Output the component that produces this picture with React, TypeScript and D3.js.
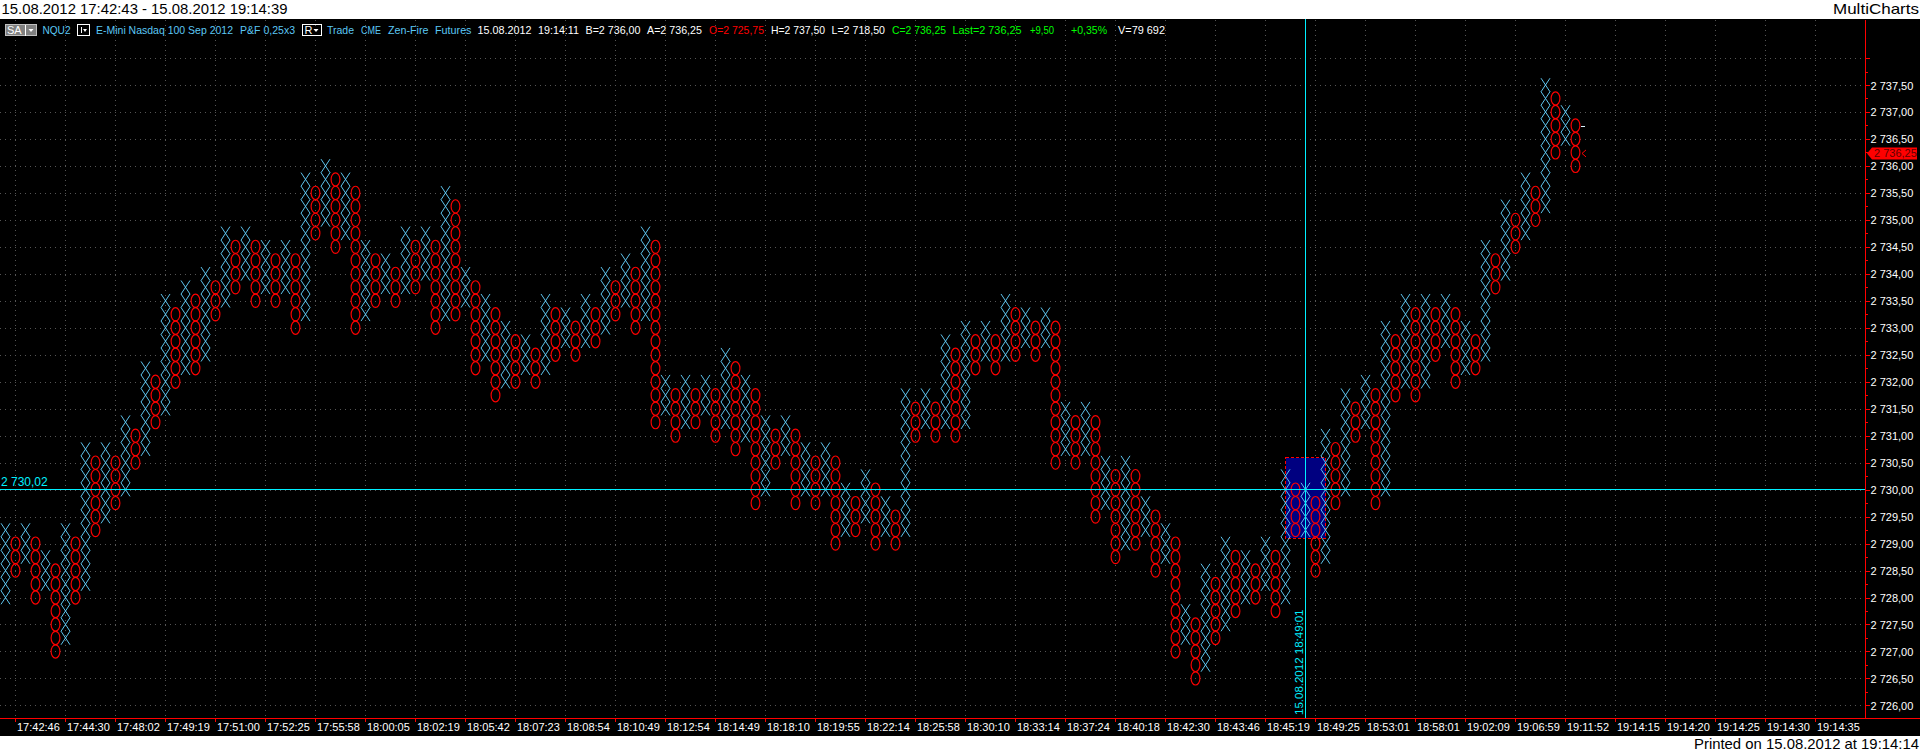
import React from "react";
import * as d3 from "d3";

const boxSize = 0.25;
// Point & figure columns, alternating X (even index) and O (odd index)
const columnHigh = [
  2729.25,2729,2729.25,2729,2728.75,2728.5,2729.25,2729,2730.75,2730.5,
  2730.75,2730.5,2731.25,2731,2732.25,2732,2733.5,2733.25,2733.75,2733.5,
  2734,2733.75,2734.75,2734.5,2734.75,2734.5,2734.5,2734.25,2734.5,2734.25,
  2735.75,2735.5,2736,2735.75,2735.75,2735.5,2734.5,2734.25,2734.25,2734,
  2734.75,2734.5,2734.75,2734.5,2735.5,2735.25,2734,2733.75,2733.5,2733.25,
  2733,2732.75,2732.75,2732.5,2733.5,2733.25,2733.25,2733,2733.5,2733.25,
  2734,2733.75,2734.25,2734,2734.75,2734.5,2732,2731.75,2732,2731.75,
  2732,2731.75,2732.5,2732.25,2732,2731.75,2731.25,2731,2731.25,2731,
  2730.75,2730.5,2730.75,2730.5,2730,2729.75,2730.25,2730,2729.75,2729.5,
  2731.75,2731.5,2731.75,2731.5,2732.75,2732.5,2733,2732.75,2733,2732.75,
  2733.5,2733.25,2733.25,2733,2733.25,2733,2731.5,2731.25,2731.5,2731.25,
  2730.5,2730.25,2730.5,2730.25,2729.75,2729.5,2729.25,2729,2727.75,2727.5,
  2728.5,2728.25,2729,2728.75,2728.75,2728.5,2729,2728.75,2730.25,2730,
  2730,2729.75,2731,2730.75,2731.75,2731.5,2732,2731.75,2733,2732.75,
  2733.5,2733.25,2733.5,2733.25,2733.5,2733.25,2733,2732.75,2734.5,2734.25,
  2735.25,2735,2735.75,2735.5,2737.5,2737.25,2737,2736.75,
];
const columnLow = [
  2728,2728.5,2728.75,2728,2728.25,2727,2727.25,2728,2728.25,2729.25,
  2729.5,2729.75,2730,2730.5,2730.75,2731.25,2731.5,2732,2732.25,2732.25,
  2732.5,2733.25,2733.5,2733.75,2734,2733.5,2733.75,2733.5,2733.75,2733,
  2733.25,2734.75,2735,2734.5,2734.75,2733,2733.25,2733.5,2733.75,2733.5,
  2733.75,2733.75,2734,2733,2733.25,2733.25,2733.5,2732.25,2732.5,2731.75,
  2732,2732,2732.25,2732,2732.25,2732.5,2732.75,2732.5,2732.75,2732.75,
  2733,2733.25,2733.5,2733,2733.25,2731.25,2731.5,2731,2731.25,2731.25,
  2731.5,2731,2731.25,2730.75,2731,2729.75,2730,2730.5,2730.75,2729.75,
  2730,2729.75,2730,2729,2729.25,2729.25,2729.5,2729,2729.25,2729,
  2729.25,2731,2731.25,2731,2731.25,2731,2731.25,2732.25,2732.5,2732.25,
  2732.5,2732.5,2732.75,2732.5,2732.75,2730.5,2730.75,2730.5,2730.75,2729.5,
  2729.75,2728.75,2729,2729,2729.25,2728.5,2728.75,2727,2727.25,2726.5,
  2726.75,2727.25,2727.5,2727.75,2728,2728,2728.25,2727.75,2728,2729.25,
  2729.25,2728.5,2728.75,2729.75,2730,2731,2731.25,2729.75,2730,2731.75,
  2732,2731.75,2732,2732.5,2732.75,2732,2732.25,2732.25,2732.5,2733.75,
  2734,2734.5,2734.75,2735,2735.25,2736.25,2736.5,2736,
];

const priceTicks = [
  2737.5,2737,2736.5,2736,2735.5,2735,2734.5,2734,2733.5,2733,2732.5,2732,
  2731.5,2731,2730.5,2730,2729.5,2729,2728.5,2728,2727.5,2727,2726.5,2726,
];
const gridPrices = [2738, ...priceTicks];
const minorPrices = [2737.75,2737.25,2736.75,2736.25,2735.75,2735.25,2734.75,2734.25,2733.75,2733.25,2732.75,2732.25,2731.75,2731.25,2730.75,2730.25,2729.75,2729.25,2728.75,2728.25,2727.75,2727.25,2726.75,2726.25];
const timeLabels = [
  "17:42:46","17:44:30","17:48:02","17:49:19","17:51:00","17:52:25","17:55:58","18:00:05",
  "18:02:19","18:05:42","18:07:23","18:08:54","18:10:49","18:12:54","18:14:49","18:18:10",
  "18:19:55","18:22:14","18:25:58","18:30:10","18:33:14","18:37:24","18:40:18","18:42:30",
  "18:43:46","18:45:19","18:49:25","18:53:01","18:58:01","19:02:09","19:06:59","19:11:52",
  "19:14:15","19:14:20","19:14:25","19:14:30","19:14:35",
];
const headerLabels = [
  "NQU2","E-Mini Nasdaq 100 Sep 2012","P&F 0,25x3","Trade","CME","Zen-Fire","Futures",
  "15.08.2012","19:14:11","B=2 736,00","A=2 736,25","O=2 725,75","H=2 737,50","L=2 718,50",
  "C=2 736,25","Last=2 736,25","+9,50","+0,35%","V=79 692",
];

const crossPrice = 2730.02;
const crossColumn = 130;
const crossLabel = "2 730,02";
const crossTime = "15.08.2012 18:49:01";
const selection = { colFrom: 128, colTo: 132, hi: 2730.59, lo: 2729.1 };
const lastPrice = 2736.25;
const lastLabel = "2 736,25";
const prevClose = 2736.75;

// layout of the status row
const BLUE = "#5cc8f5";
const WHITE = "#ffffff";
const RED = "#ff0000";
const GREEN = "#00ff00";
const headerX = [42.5,96,240,327,361,388,435,477.5,538,585.5,647,709,771,831.5,892,952.5,1030,1071,1118];
const headerW = [28,137,55,27,20,40.5,36.5,54,41,55,55,55,54,53.5,54,69,24,36,47];
const headerC = [BLUE,BLUE,BLUE,BLUE,BLUE,BLUE,BLUE,WHITE,WHITE,WHITE,WHITE,RED,WHITE,WHITE,GREEN,GREEN,GREEN,GREEN,WHITE];

const x = d3.scaleLinear().domain([0, 10]).range([5, 105]);
const y = d3.scaleLinear().domain([2737.5, 2726]).range([85, 705.4]);
const font = "'Liberation Sans', Arial, sans-serif";
const CYAN = "#00f0ff";
const fmt = (v: number) =>
  "2 " + d3.format(".2f")(v - 2000).replace(".", ",");

const HW = 4.5;
const HH = 6.8;
const xMark = d3.path();
xMark.moveTo(-HW, -HH);
xMark.lineTo(HW, HH);
xMark.moveTo(HW, -HH);
xMark.lineTo(-HW, HH);
const xMarkPath = xMark.toString();

function Column({ i }: { i: number }) {
  const n = Math.round((columnHigh[i] - columnLow[i]) / boxSize);
  const prices = d3.range(n + 1).map((k) => columnLow[i] + k * boxSize);
  const isX = i % 2 === 0;
  return (
    <g>
      {prices.map((p) =>
        isX ? (
          <path key={p} transform={`translate(${x(i) + 0.5},${y(p)})`} d={xMarkPath} fill="none" stroke="#62ccf8" strokeWidth={0.95} />
        ) : (
          <ellipse key={p} cx={x(i) + 0.5} cy={y(p)} rx={4.4} ry={6.6} fill="none" stroke="#ff0000" strokeWidth={1.15} />
        )
      )}
    </g>
  );
}

export default function App() {
  const top = 19;
  const axisBottom = 718;
  const axisX = 1865.5;
  const gridX = timeLabels.map((_, k) => 15 + 50 * k);
  const selX0 = x(selection.colFrom);
  const selX1 = x(selection.colTo);
  const selY0 = y(selection.hi);
  const selY1 = y(selection.lo);
  const crossX = x(crossColumn) + 0.5;
  const crossY = Math.round(y(crossPrice)) + 0.5;
  const lastY = y(lastPrice) + 1;
  return (
    <>
      <style>{`html,body{margin:0;padding:0;background:#fff;overflow:hidden}`}</style>
      <svg width={1920} height={753} style={{ display: "block" }} fontFamily={font}>
        <rect width={1920} height={753} fill="#ffffff" />
        <rect y={top} width={1920} height={736 - top} fill="#000000" />
        <text x={1.5} y={14} fontSize={15} fill="#000" textLength={286} lengthAdjust="spacingAndGlyphs">15.08.2012 17:42:43 - 15.08.2012 19:14:39</text>
        <text x={1833} y={14} fontSize={15} fill="#000" textLength={86} lengthAdjust="spacingAndGlyphs">MultiCharts</text>
        <text x={1694} y={749} fontSize={15} fill="#000" textLength={225} lengthAdjust="spacingAndGlyphs">Printed on 15.08.2012 at 19:14:14</text>

        {/* grid */}
        <g stroke="#555555" strokeWidth={1} strokeDasharray="1 4" shapeRendering="crispEdges">
          {gridPrices.map((p) => (
            <line key={p} x1={0} x2={axisX} y1={Math.round(y(p)) + 0.5} y2={Math.round(y(p)) + 0.5} />
          ))}
          {gridX.map((gx) => (
            <line key={gx} x1={gx + 0.5} x2={gx + 0.5} y1={20} y2={axisBottom} />
          ))}
        </g>

        {/* header */}
        <g>
          <rect x={5.5} y={24.5} width={31} height={11} fill="#808080" stroke="#c0c0c0" />
          <text x={7} y={34} fontSize={11} fill="#ffffff">SA</text>
          <line x1={25.5} x2={25.5} y1={25} y2={36} stroke="#fff" />
          <path d="M28.5 29 L33.5 29 L31 32 Z" fill="#fff" />
          <rect x={77.5} y={24.5} width={12} height={11} fill="none" stroke="#fff" />
          <line x1={81.5} x2={81.5} y1={27} y2={33} stroke="#fff" />
          <path d="M83 29 L87 29 L85 32 Z" fill="#fff" />
          <rect x={302.5} y={24.5} width={19} height={11} fill="none" stroke="#fff" />
          <text x={304.5} y={34} fontSize={11} fill="#fff">R</text>
          <path d="M313.5 29 L318.5 29 L316 32 Z" fill="#fff" />
          {headerLabels.map((t, k) => (
            <text key={t + k} x={headerX[k]} y={34} fontSize={11} fill={headerC[k]} textLength={headerW[k]} lengthAdjust="spacingAndGlyphs">{t}</text>
          ))}
        </g>

        {/* selection */}
        <rect x={selX0 + 0.5} y={selY0} width={selX1 - selX0} height={selY1 - selY0} fill="#000080" stroke="#ff0000" strokeWidth={1} strokeDasharray="3 2" shapeRendering="crispEdges" />

        {/* columns */}
        <g>
          {columnHigh.map((_, i) => (
            <Column key={i} i={i} />
          ))}
        </g>

        {/* last markers */}
        <line x1={x(157) + 6} x2={x(157) + 10} y1={y(prevClose) + 1.5} y2={y(prevClose) + 1.5} stroke="#d8f4ff" shapeRendering="crispEdges" />
        <path d={`M${x(157) + 11} ${lastY - 3.5} L${x(157) + 7} ${lastY} L${x(157) + 11} ${lastY + 3.5}`} fill="none" stroke="#ff0000" />

        {/* crosshair */}
        <line x1={0} x2={axisX} y1={crossY} y2={crossY} stroke={CYAN} strokeWidth={1} shapeRendering="crispEdges" />
        <line x1={crossX} x2={crossX} y1={top} y2={axisBottom} stroke={CYAN} strokeWidth={1} shapeRendering="crispEdges" />
        <text x={1} y={crossY - 4} fontSize={12} fill={CYAN}>{crossLabel}</text>
        <text transform={`translate(${crossX - 3},715) rotate(-90)`} fontSize={11.5} fill={CYAN}>{crossTime}</text>

        {/* axes */}
        <g stroke="#ff0000" strokeWidth={1} shapeRendering="crispEdges">
          <line x1={axisX} x2={axisX} y1={20} y2={axisBottom} />
          <line x1={0} x2={1920} y1={718.5} y2={718.5} />
          {gridPrices.map((p) => (
            <line key={p} x1={axisX} x2={axisX + 4} y1={Math.round(y(p)) + 0.5} y2={Math.round(y(p)) + 0.5} />
          ))}
          {minorPrices.map((p) => (
            <line key={p} x1={axisX} x2={axisX + 2} y1={Math.round(y(p)) + 0.5} y2={Math.round(y(p)) + 0.5} />
          ))}
          {gridX.map((gx) => (
            <line key={gx} x1={gx + 0.5} x2={gx + 0.5} y1={718} y2={722} />
          ))}
        </g>
        {priceTicks.map((p) => (
          <text key={p} x={1870.5} y={y(p) + 4.5} fontSize={11} fill="#fff">{fmt(p)}</text>
        ))}
        {timeLabels.map((t, k) => (
          <text key={t} x={gridX[k] + 2} y={730.5} fontSize={11} fill="#fff">{t}</text>
        ))}

        {/* last price tag */}
        <path d={`M1867 ${lastY} L1872 ${lastY - 6} L1917 ${lastY - 6} L1917 ${lastY + 6} L1872 ${lastY + 6} Z`} fill="#ff0000" />
        <text x={1874} y={lastY + 4} fontSize={11} fill="#600000">{lastLabel}</text>
      </svg>
    </>
  );
}
